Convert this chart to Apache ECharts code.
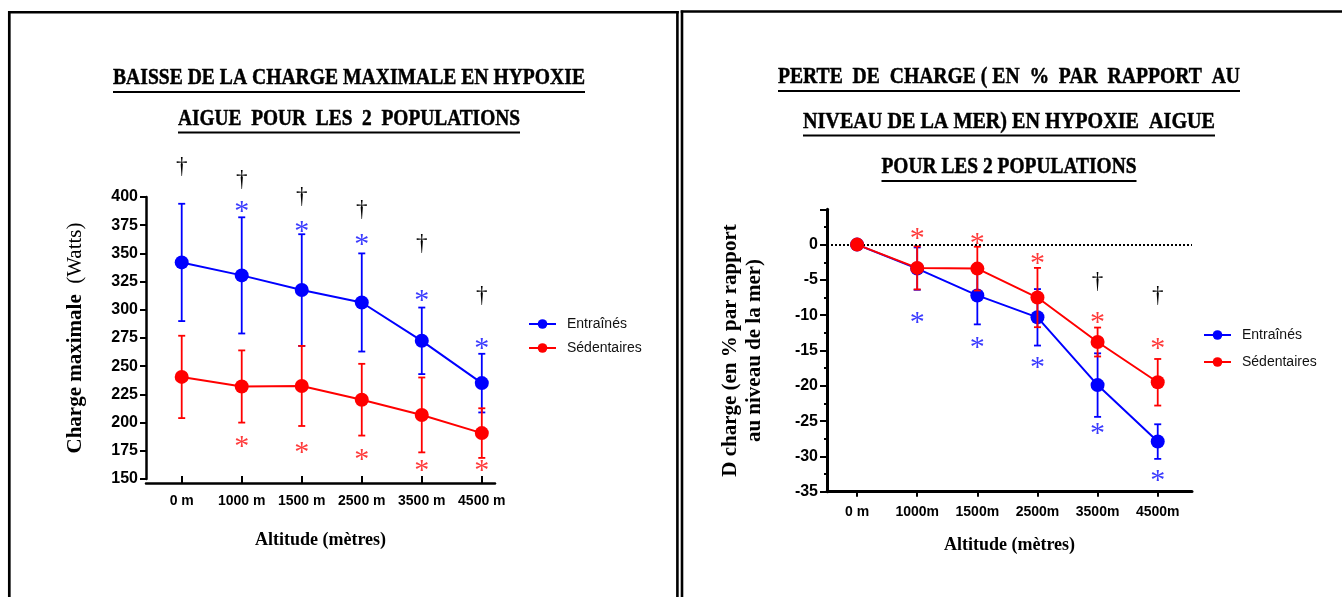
<!DOCTYPE html>
<html><head><meta charset="utf-8">
<script src="https://cdn.jsdelivr.net/npm/echarts@6/dist/echarts.min.js"></script>
<style>html,body{margin:0;padding:0;background:#fff}#c{width:1342px;height:597px}</style>
</head><body><div id="c"></div>
<script>
// ---------- data ----------
const catLeft = ['0 m', '1000 m', '1500 m', '2500 m', '3500 m', '4500 m'];
const catRight = ['0 m', '1000m', '1500m', '2500m', '3500m', '4500m'];
const seriesNames = ['Entraînés', 'Sédentaires'];

const wattsTrained = [342, 330.5, 317.5, 306.5, 272.5, 235];
const wattsTrainedSD = [52, 51.5, 49.5, 43.5, 29.5, 26];
const wattsSedentary = [240.5, 232, 232.5, 220.3, 206.8, 190.7];
const wattsSedentarySD = [36.5, 32, 35.5, 31.8, 33.2, 22];

const lossTrained = [0, -3.4, -7.2, -10.3, -19.9, -27.9];
const lossTrainedSD = [0, 3.0, 4.1, 4.0, 4.5, 2.45];
const lossSedentary = [0, -3.3, -3.4, -7.5, -13.8, -19.5];
const lossSedentarySD = [0, 3.05, 3.1, 4.2, 2.05, 3.3];

// significance symbols: value on the y axis where each is drawn (null = none)
const wattsStarTrained = [null, 391, 373, 362, 312, 270];
const wattsStarSedentary = [null, 182.5, 177.5, 171.5, 161, 161];
const wattsDagger = [427, 415, 400, 388.5, 358, 312.5];
const lossStarTrained = [null, -10.4, -14.0, -16.8, -26.2, -32.8];
const lossStarSedentary = [null, 1.5, 0.75, -2.1, -10.4, -14.1];
const lossDagger = [null, null, null, null, -5.3, -7.3];

const yLeftTicks = { min: 150, max: 400, interval: 25 };
const yRightTicks = { min: -35, max: 5, interval: 5 };

const titleLeft = ['BAISSE DE LA CHARGE MAXIMALE EN HYPOXIE', 'AIGUE  POUR  LES  2  POPULATIONS'];
const titleRight = ['PERTE  DE  CHARGE ( EN  %  PAR  RAPPORT  AU', 'NIVEAU DE LA MER) EN HYPOXIE  AIGUE', 'POUR LES 2 POPULATIONS'];

// ---------- helpers ----------
const BLUE = '#0000ff', RED = '#ff0000', SBLUE = '#3b3bff', SRED = '#ff3b3b';
const idx = [0, 1, 2, 3, 4, 5];
const pts = a => a.map((v, i) => [i, v]);
const errData = (m, s) => m.map((v, i) => [i, v, s[i]]);
const markData = a => a.map((v, i) => v == null ? null : [i, v]).filter(d => d);

function errRender(color) {
  return function (params, api) {
    const i = api.value(0), m = api.value(1), sd = api.value(2);
    if (!sd) return { type: 'group', children: [] };
    const top = api.coord([i, m + sd]), bot = api.coord([i, m - sd]);
    const h = 3.5, st = { stroke: color, lineWidth: 1.8 };
    return { type: 'group', children: [
      { type: 'line', shape: { x1: top[0], y1: top[1], x2: bot[0], y2: bot[1] }, style: st },
      { type: 'line', shape: { x1: top[0] - h, y1: top[1], x2: top[0] + h, y2: top[1] }, style: st },
      { type: 'line', shape: { x1: bot[0] - h, y1: bot[1], x2: bot[0] + h, y2: bot[1] }, style: st }
    ]};
  };
}
function markRender(text, color, size, dy) {
  return function (params, api) {
    const p = api.coord([api.value(0), api.value(1)]);
    return { type: 'text', x: p[0], y: p[1] + dy, style: {
      text: text, fill: color, font: size + 'px "Liberation Serif"',
      align: 'center', verticalAlign: 'middle', textAlign: 'center', textVerticalAlign: 'middle' } };
  };
}
function errSeries(g, m, s, color, z) {
  return { type: 'custom', xAxisIndex: g, yAxisIndex: g, renderItem: errRender(color),
    data: errData(m, s), encode: { x: 0, y: 1 }, z: z, silent: true, clip: false };
}
function markSeries(g, a, text, color, size, dy) {
  return { type: 'custom', xAxisIndex: g, yAxisIndex: g, renderItem: markRender(text, color, size, dy),
    data: markData(a), encode: { x: 0, y: 1 }, z: 10, silent: true, clip: false };
}
function lineSeries(g, name, a, color, z, extra) {
  return Object.assign({ type: 'line', name: name, xAxisIndex: g, yAxisIndex: g, data: pts(a),
    symbol: 'circle', symbolSize: 14, color: color, itemStyle: { color: color },
    lineStyle: { color: color, width: 2 }, z: z, animation: false }, extra || {});
}

const ctx = document.createElement('canvas').getContext('2d');
const TFONT = 'bold 24px "Liberation Serif"';
function titleEls(lines, cx, ys, widths) {
  const els = [];
  ctx.font = TFONT;
  lines.forEach((t, k) => {
    const mw = ctx.measureText(t).width, w = widths[k], y = ys[k];
    els.push({ type: 'text', x: cx, y: y, scaleX: w / mw, style: { text: t, font: TFONT, fill: '#000',
      stroke: '#000', lineWidth: 0.5,
      align: 'center', verticalAlign: 'middle', textAlign: 'center', textVerticalAlign: 'middle' } });
    els.push({ type: 'line', shape: { x1: cx - w / 2, y1: y + 14, x2: cx + w / 2, y2: y + 14 },
      style: { stroke: '#000', lineWidth: 2 } });
  });
  return els;
}
const borders = [
  { type: 'line', shape: { x1: 9.3, y1: 11, x2: 9.3, y2: 597 }, style: { stroke: '#000', lineWidth: 2.7 } },
  { type: 'line', shape: { x1: 8, y1: 12.2, x2: 678.7, y2: 12.2 }, style: { stroke: '#000', lineWidth: 2.4 } },
  { type: 'line', shape: { x1: 677.4, y1: 11, x2: 677.4, y2: 597 }, style: { stroke: '#000', lineWidth: 2.6 } },
  { type: 'line', shape: { x1: 682, y1: 10.5, x2: 682, y2: 597 }, style: { stroke: '#000', lineWidth: 2.6 } },
  { type: 'line', shape: { x1: 680.7, y1: 11.6, x2: 1342, y2: 11.6 }, style: { stroke: '#000', lineWidth: 2.5 } }
];

const tickFont = { fontFamily: 'Liberation Sans', fontWeight: 'bold', color: '#000' };
const nameFont = { fontFamily: 'Liberation Serif', fontWeight: 'bold', fontSize: 18, color: '#000' };

const option = {
  backgroundColor: '#fff',
  animation: false,
  grid: [
    { left: 146, top: 197, width: 349, height: 282 },
    { left: 827, top: 209.3, width: 365, height: 282.4 }
  ],
  legend: [
    { left: 528, top: 317, padding: 0, orient: 'vertical', data: seriesNames, itemWidth: 27, itemHeight: 12, itemGap: 10,
      textStyle: { fontFamily: 'Liberation Sans', fontSize: 14, lineHeight: 14, color: '#111', padding: [0, 0, 0, 6] } },
    { left: 1203, top: 328, padding: 0, orient: 'vertical', data: seriesNames, itemWidth: 27, itemHeight: 12, itemGap: 13,
      textStyle: { fontFamily: 'Liberation Sans', fontSize: 14, lineHeight: 14, color: '#111', padding: [0, 0, 0, 6] } }
  ],
  xAxis: [
    { type: 'value', gridIndex: 0, min: -0.595, max: 5.22, offset: 4,
      axisLine: { show: true, onZero: false, lineStyle: { color: '#000', width: 2.5 } },
      axisTick: { show: true, inside: true, length: 7, customValues: idx, lineStyle: { color: '#000', width: 2 } },
      axisLabel: Object.assign({ customValues: idx, formatter: v => catLeft[Math.round(v)], fontSize: 14, margin: 11 }, tickFont),
      splitLine: { show: false },
      name: 'Altitude (mètres)', nameLocation: 'middle', nameGap: 48, nameTextStyle: nameFont },
    { type: 'value', gridIndex: 1, min: -0.5, max: 5.57,
      axisLine: { show: true, onZero: false, lineStyle: { color: '#000', width: 3 } },
      axisTick: { show: true, inside: false, length: 5, customValues: idx, lineStyle: { color: '#000', width: 2 } },
      axisLabel: Object.assign({ customValues: idx, formatter: v => catRight[Math.round(v)], fontSize: 14, margin: 13 }, tickFont),
      splitLine: { show: false },
      name: 'Altitude (mètres)', nameLocation: 'middle', nameGap: 45, nameTextStyle: nameFont }
  ],
  yAxis: [
    { type: 'value', gridIndex: 0, min: yLeftTicks.min, max: yLeftTicks.max, interval: yLeftTicks.interval,
      axisLine: { show: true, onZero: false, lineStyle: { color: '#000', width: 2.5 } },
      axisTick: { show: true, length: 6, lineStyle: { color: '#000', width: 2 } },
      axisLabel: Object.assign({ fontSize: 16, margin: 8 }, tickFont),
      splitLine: { show: false },
      name: '{b|Charge maximale}  {r|(Watts)}', nameLocation: 'middle', nameRotate: 90, nameGap: 60,
      nameTextStyle: { fontFamily: 'Liberation Serif', fontSize: 21, color: '#000',
        rich: { b: { fontFamily: 'Liberation Serif', fontWeight: 'bold', fontSize: 21, color: '#000' },
                r: { fontFamily: 'Liberation Serif', fontSize: 21, color: '#000' } } } },
    { type: 'value', gridIndex: 1, min: yRightTicks.min, max: yRightTicks.max, interval: yRightTicks.interval,
      axisLine: { show: true, onZero: false, lineStyle: { color: '#000', width: 3 } },
      axisTick: { show: true, length: 7, lineStyle: { color: '#000', width: 2 } },
      minorTick: { show: true, splitNumber: 2, length: 3, lineStyle: { color: '#000', width: 2 } },
      axisLabel: Object.assign({ fontSize: 16, margin: 9, formatter: v => v > 0 ? '' : String(v) }, tickFont),
      splitLine: { show: false },
      name: 'D charge (en % par rapport\nau niveau de la mer)', nameLocation: 'middle', nameRotate: 90, nameGap: 60,
      nameTextStyle: { fontFamily: 'Liberation Serif', fontWeight: 'bold', fontSize: 21, lineHeight: 24, color: '#000', align: 'center' } }
  ],
  graphic: { elements: borders
    .concat(titleEls(titleLeft, 349, [78, 118.5], [472, 342]))
    .concat(titleEls(titleRight, 1009, [77, 121.5, 167], [462, 412, 255])) },
  series: [
    // left chart
    errSeries(0, wattsTrained, wattsTrainedSD, BLUE, 2),
    errSeries(0, wattsSedentary, wattsSedentarySD, RED, 2),
    lineSeries(0, seriesNames[0], wattsTrained, BLUE, 3),
    lineSeries(0, seriesNames[1], wattsSedentary, RED, 3),
    markSeries(0, wattsStarTrained, '*', SBLUE, 30, 5),
    markSeries(0, wattsStarSedentary, '*', SRED, 30, 5),
    markSeries(0, wattsDagger, '†', '#000', 23, 0),
    // right chart
    errSeries(1, lossTrained, lossTrainedSD, BLUE, 2),
    lineSeries(1, seriesNames[0], lossTrained, BLUE, 3, {
      markLine: { silent: true, symbol: ['none', 'none'], label: { show: false },
        lineStyle: { type: [2, 2], color: '#000', width: 2 }, data: [{ yAxis: 0 }] } }),
    errSeries(1, lossSedentary, lossSedentarySD, RED, 4),
    lineSeries(1, seriesNames[1], lossSedentary, RED, 5),
    markSeries(1, lossStarTrained, '*', SBLUE, 30, 5),
    markSeries(1, lossStarSedentary, '*', SRED, 30, 5),
    markSeries(1, lossDagger, '†', '#000', 23, 0)
  ]
};
const chart = echarts.init(document.getElementById('c'), null, { renderer: 'canvas' });
chart.setOption(option);
</script>
</body></html>
